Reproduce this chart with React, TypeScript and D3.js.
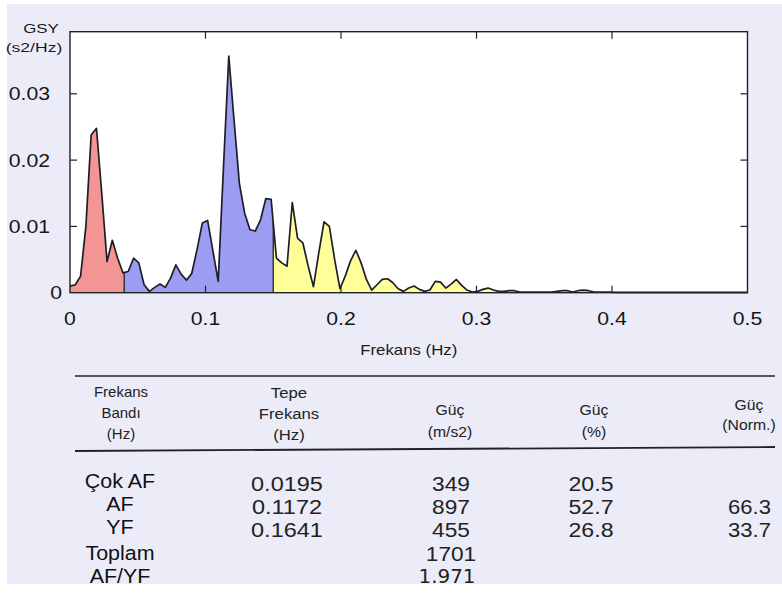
import React from "react";
import * as d3 from "d3";

// Spectral density (s2/Hz) on a 1/256 Hz grid, 0 .. 0.5 Hz
const FREQ_STEP = 1 / 256;
const psd = [
  0.0010, 0.0012, 0.0025, 0.0100, 0.0238, 0.0248, 0.0150, 0.0047, 0.0079, 0.0052,
  0.0030, 0.0032, 0.0052, 0.0045, 0.0012, 0.0002, 0.0008, 0.0013, 0.0008, 0.0022,
  0.0042, 0.0028, 0.0019, 0.0029, 0.0065, 0.0105, 0.0109, 0.0063, 0.0017, 0.0190,
  0.0357, 0.0260, 0.0165, 0.0120, 0.0095, 0.0093, 0.0110, 0.0142, 0.0141, 0.0052,
  0.0045, 0.0040, 0.0136, 0.0082, 0.0075, 0.0040, 0.0009, 0.0060, 0.0107, 0.0100,
  0.0050, 0.0006, 0.0025, 0.0048, 0.0064, 0.0045, 0.0020, 0.0004, 0.0012, 0.0020,
  0.0021, 0.0015, 0.0006, 0.0002, 0.0007, 0.0010, 0.0005, 0.0002, 0.0004, 0.0017,
  0.0016, 0.0007, 0.0013, 0.0020, 0.0011, 0.0004, 0.0001, 0.0002, 0.0005, 0.0007,
  0.0004, 0.0002, 0.0002, 0.0003, 0.0003, 0.0001, 0.0001, 0.0001, 0.0001, 0.0001,
  0.0001, 0.0001, 0.0002, 0.0003, 0.0003, 0.0001, 0.0003, 0.0004, 0.0003, 0.0001,
  0.0001, 0.0001, 0.0001, 0.00005, 0.00005, 0.00005, 0.00005, 0.00005, 0.00005, 0.00005,
  0.00005, 0.00005, 0.00005, 0.00005, 0.00005, 0.00005, 0.00005, 0.00005, 0.00005, 0.00005,
  0.00005, 0.00005, 0.00005, 0.00005, 0.00005, 0.00005, 0.00005, 0.00005, 0.00005,
];

// Frequency bands: [start, end] in Hz and fill colour
const bandLimits = [
  [0, 0.04],
  [0.04, 0.15],
  [0.15, 0.4],
];
const bandColors = ["#F39595", "#9C9CF2", "#FFFF99"];

const xTicks = [0, 0.1, 0.2, 0.3, 0.4, 0.5];
const yTicks = [0, 0.01, 0.02, 0.03];

// Summary table
const headerBand = ["Frekans", "Bandı", "(Hz)"];
const headerPeak = ["Tepe", "Frekans", "(Hz)"];
const headerPower = ["Güç", "(m/s2)"];
const headerPct = ["Güç", "(%)"];
const headerNorm = ["Güç", "(Norm.)"];
const bandNames = ["Çok AF", "AF", "YF", "Toplam", "AF/YF"];
const peakFreqs = ["0.0195", "0.1172", "0.1641"];
const powers = ["349", "897", "455", "1701"];
const ratioLfHf = "1.971";
const powerPct = ["20.5", "52.7", "26.8"];
const powerNorm = ["", "66.3", "33.7"];

const W = 782;
const H = 595;
const plot = { left: 70, right: 747.5, top: 31.7, bottom: 292.7 };
const FONT = "'Liberation Sans', Arial, Helvetica, sans-serif";

// Text widened horizontally around its anchor point
function Wide({
  x,
  y,
  sx,
  size,
  anchor = "middle",
  fill = "#1a1a1a",
  family,
  children,
}: {
  x: number;
  y: number;
  sx: number;
  size: number;
  anchor?: "start" | "middle" | "end";
  fill?: string;
  family?: string;
  children: React.ReactNode;
}) {
  return (
    <text
      transform={`translate(${x},${y}) scale(${sx},1)`}
      dy="0.36em"
      textAnchor={anchor}
      fontSize={size}
      fill={fill}
      fontFamily={family}
    >
      {children}
    </text>
  );
}

export default function App() {
  const x = d3.scaleLinear().domain([0, 0.5]).range([plot.left, plot.right]);
  const y = d3.scaleLinear().domain([0, 0.03937]).range([plot.bottom, plot.top]);

  const pts: [number, number][] = psd.map((v, i) => [i * FREQ_STEP, v]);
  const line = d3
    .line<[number, number]>()
    .x((d) => x(d[0]))
    .y((d) => y(d[1]));
  const area = d3
    .area<[number, number]>()
    .x((d) => x(d[0]))
    .y0(y(0))
    .y1((d) => y(d[1]));

  const valueAt = (f: number) => {
    const i = Math.min(Math.floor(f / FREQ_STEP), psd.length - 2);
    const t = f / FREQ_STEP - i;
    return psd[i] * (1 - t) + psd[i + 1] * t;
  };

  const tickLen = 7;
  const rowY = [481, 504, 527, 553, 576];
  const numY = [483, 506, 529, 553, 576];

  return (
    <svg
      width={W}
      height={H}
      style={{ position: "absolute", left: 0, top: 0 }}
      fontFamily={FONT}
    >
      <rect x={0} y={0} width={W} height={H} fill="#ffffff" />
      <rect x={7} y={4} width={W - 7} height={580} fill="#ECECF9" />

      <defs>
        {bandLimits.map((b, k) => (
          <clipPath id={`band-${k}`} key={k}>
            <rect
              x={x(b[0])}
              y={plot.top}
              width={x(b[1]) - x(b[0])}
              height={plot.bottom - plot.top}
            />
          </clipPath>
        ))}
      </defs>

      {/* plot area */}
      <rect
        x={plot.left}
        y={plot.top}
        width={plot.right - plot.left}
        height={plot.bottom - plot.top}
        fill="#ffffff"
      />

      {/* band fills */}
      {bandLimits.map((b, k) => (
        <path
          key={k}
          d={area(pts) || ""}
          fill={bandColors[k]}
          clipPath={`url(#band-${k})`}
        />
      ))}

      {/* band separators */}
      {[0.04, 0.15].map((f) => (
        <line
          key={f}
          x1={x(f)}
          x2={x(f)}
          y1={y(0)}
          y2={y(valueAt(f))}
          stroke="#222"
          strokeWidth={1.3}
        />
      ))}

      {/* spectrum curve */}
      <path
        d={line(pts) || ""}
        fill="none"
        stroke="#1e1e28"
        strokeWidth={1.7}
        strokeLinejoin="round"
      />

      {/* frame */}
      <rect
        x={plot.left}
        y={plot.top}
        width={plot.right - plot.left}
        height={plot.bottom - plot.top}
        fill="none"
        stroke="#222"
        strokeWidth={1.4}
      />

      {/* x ticks, top and bottom, inward */}
      {xTicks.slice(1, -1).map((t) => (
        <g key={t}>
          <line x1={x(t)} x2={x(t)} y1={plot.top} y2={plot.top + tickLen} stroke="#222" strokeWidth={1.2} />
          <line x1={x(t)} x2={x(t)} y1={plot.bottom} y2={plot.bottom - tickLen} stroke="#222" strokeWidth={1.2} />
        </g>
      ))}
      {/* y ticks, left and right, inward */}
      {yTicks.slice(1).map((t) => (
        <g key={t}>
          <line x1={plot.left} x2={plot.left + tickLen} y1={y(t)} y2={y(t)} stroke="#222" strokeWidth={1.2} />
          <line x1={plot.right} x2={plot.right - tickLen} y1={y(t)} y2={y(t)} stroke="#222" strokeWidth={1.2} />
        </g>
      ))}

      {/* tick labels */}
      {xTicks.map((t) => (
        <Wide key={t} x={x(t)} y={319} sx={1.18} size={18} fill="#151515">
          {d3.format("")(t)}
        </Wide>
      ))}
      {yTicks.map((t) => (
        <Wide
          key={t}
          x={t === 0 ? 62 : 50}
          y={y(t)}
          sx={1.18}
          size={18}
          anchor="end"
          fill="#151515"
        >
          {d3.format("")(t)}
        </Wide>
      ))}

      {/* axis titles */}
      <Wide x={41} y={28} sx={1.3} size={13}>
        GSY
      </Wide>
      <Wide x={34} y={47} sx={1.3} size={13.5}>
        (s2/Hz)
      </Wide>
      <Wide x={(plot.left + plot.right) / 2} y={350} sx={1.2} size={14}>
        Frekans (Hz)
      </Wide>

      {/* table rules */}
      <line x1={75} x2={775} y1={376} y2={376} stroke="#222" strokeWidth={1.5} />
      <line x1={75} x2={775} y1={451} y2={447} stroke="#222" strokeWidth={1.8} />

      {/* table header */}
      {headerBand.map((s, i) => (
        <Wide key={"hb" + i} x={121} y={392 + i * 21} sx={1} size={15} fill="#222">
          {s}
        </Wide>
      ))}
      {headerPeak.map((s, i) => (
        <Wide key={"hp" + i} x={289} y={392 + i * 21} sx={1.08} size={15.5} fill="#222">
          {s}
        </Wide>
      ))}
      {headerPower.map((s, i) => (
        <Wide key={"hw" + i} x={450} y={410 + i * 22} sx={1.05} size={15} fill="#222">
          {s}
        </Wide>
      ))}
      {headerPct.map((s, i) => (
        <Wide key={"hc" + i} x={594} y={410 + i * 22} sx={1.05} size={15} fill="#222">
          {s}
        </Wide>
      ))}
      {headerNorm.map((s, i) => (
        <Wide key={"hn" + i} x={749} y={405 + i * 20} sx={1.05} size={15} fill="#222">
          {s}
        </Wide>
      ))}

      {/* table body */}
      {bandNames.map((s, i) => (
        <Wide key={"bn" + i} x={120} y={rowY[i]} sx={1.1} size={19.5} fill="#111">
          {s}
        </Wide>
      ))}
      {peakFreqs.map((s, i) => (
        <Wide key={"pf" + i} x={287} y={numY[i]} sx={1.12} size={21} fill="#222">
          {s}
        </Wide>
      ))}
      {powers.map((s, i) => (
        <Wide key={"pw" + i} x={451} y={numY[i]} sx={1.08} size={21} fill="#222">
          {s}
        </Wide>
      ))}
      <Wide
        x={447}
        y={numY[4]}
        sx={1.05}
        size={19}
        family="'DejaVu Sans', sans-serif"
        fill="#222"
      >
        {ratioLfHf}
      </Wide>
      {powerPct.map((s, i) => (
        <Wide key={"pc" + i} x={591} y={numY[i]} sx={1.1} size={21} fill="#222">
          {s}
        </Wide>
      ))}
      {powerNorm.map((s, i) => (
        <Wide key={"pn" + i} x={771} y={numY[i]} sx={1.05} size={21} anchor="end" fill="#222">
          {s}
        </Wide>
      ))}
    </svg>
  );
}
